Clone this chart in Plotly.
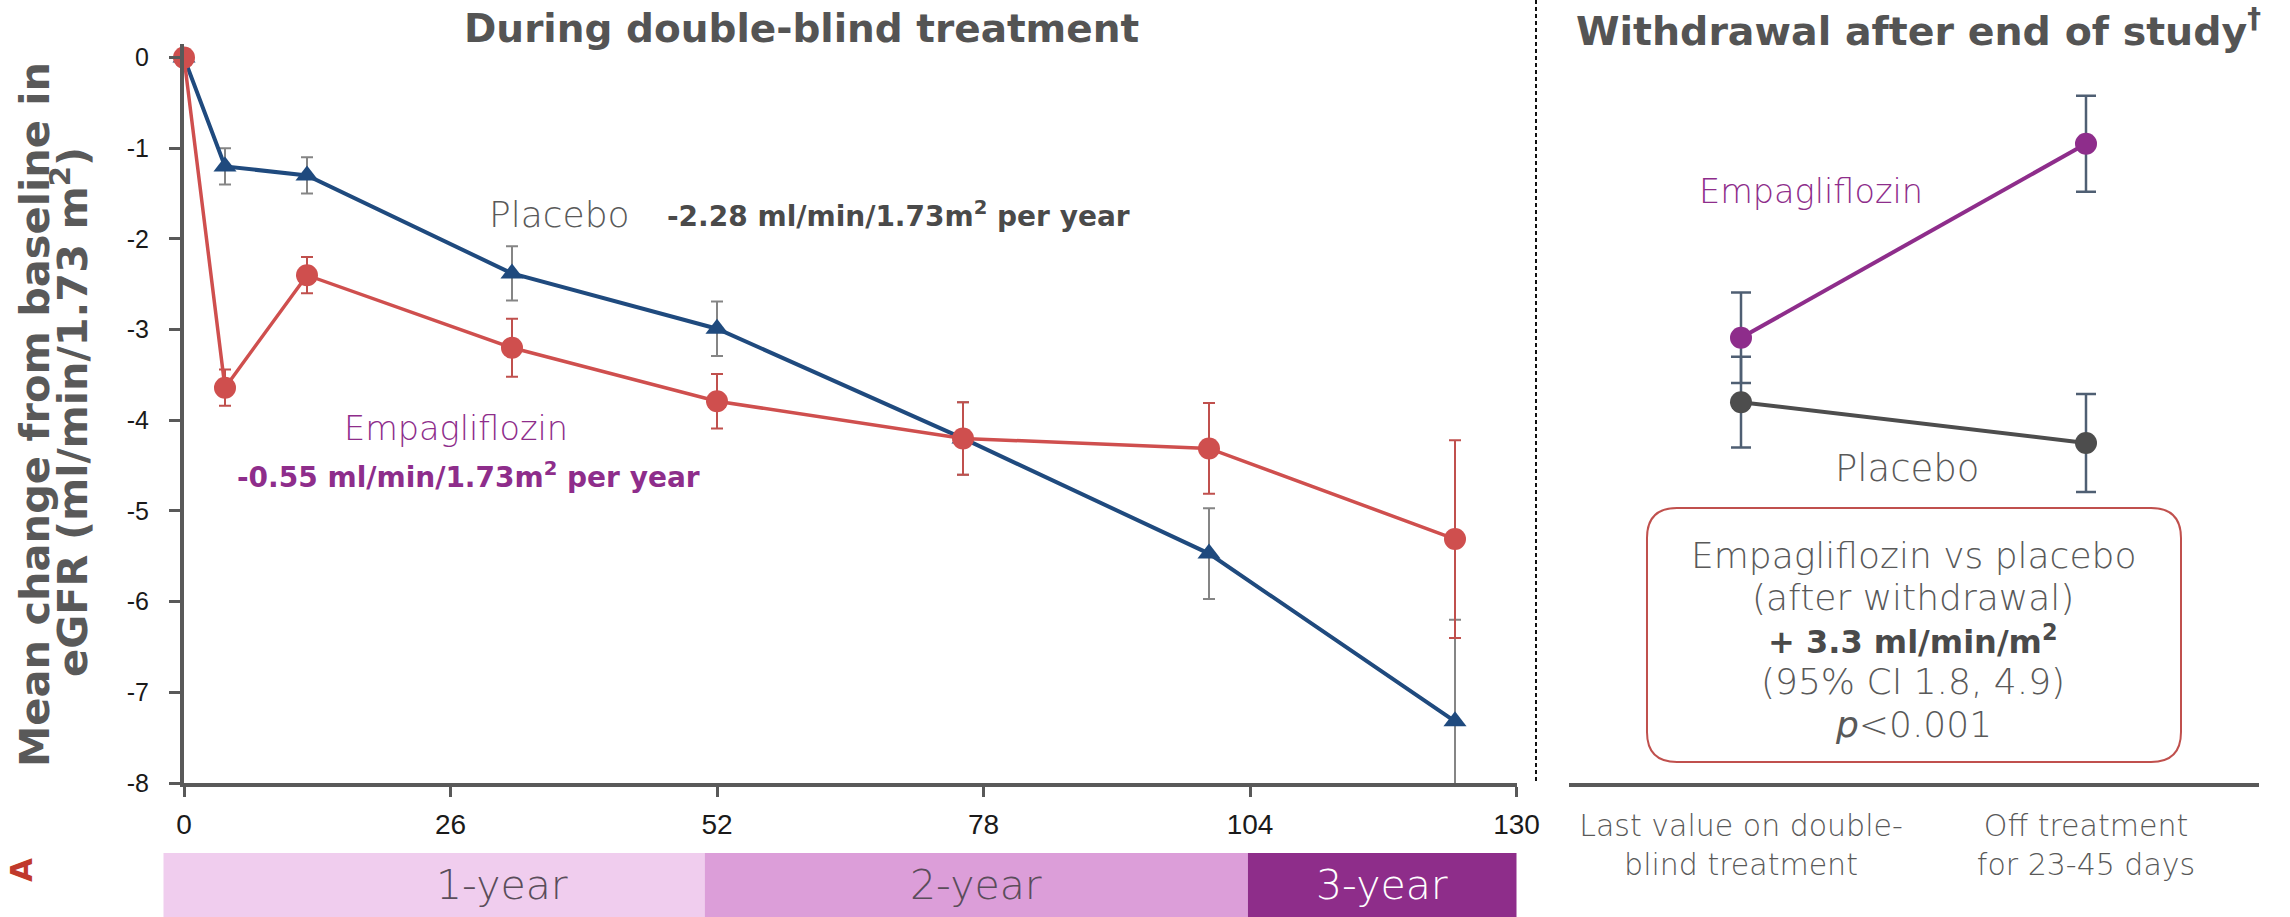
import plotly.graph_objects as go

# ---- data -------------------------------------------------------------
weeks = [0, 4, 12, 32, 52, 76, 100, 124]
placebo_mean = [0, -1.20, -1.30, -2.38, -2.99, -4.20, -5.47, -7.32]
placebo_se = [0, 0.20, 0.20, 0.30, 0.30, 0.40, 0.50, 1.12]
empa_mean = [0, -3.64, -2.40, -3.20, -3.79, -4.20, -4.31, -5.31]
empa_se = [0, 0.20, 0.20, 0.32, 0.30, 0.40, 0.50, 1.09]

x_ticks = [0, 26, 52, 78, 104, 130]
y_ticks = [0, -1, -2, -3, -4, -5, -6, -7, -8]
y_ticktext = ["0", "-1", "-2", "-3", "-4", "-5", "-6", "-7", "-8"]

phase_pos = [0, 1]
phase_labels = ["Last value on double-<br>blind treatment", "Off treatment<br>for 23-45 days"]
empa_withdrawal = [-3.09, -0.95]
empa_withdrawal_se = [0.50, 0.53]
placebo_withdrawal = [-3.80, -4.25]
placebo_withdrawal_se = [0.50, 0.54]

period_labels = ["1-year", "2-year", "3-year"]
period_edges = [-2, 50.8, 103.8, 130]  # weeks

# ---- styling ----------------------------------------------------------
W, H = 2290, 917

NAVY = "#1f4a7e"
RED = "#cf4f4e"
RED_ERR = "#c0504d"
GREY_ERR = "#858585"
PURPLE = "#8e2d8b"
DARK = "#4d4d4d"
TXT = "#595959"
SLATE = "#4f5f73"
LIGHT = "DejaVu Sans"
BOLD = "DejaVu Sans"
TICKS = "Liberation Sans"


def fx(p):
    """pixel (x) -> paper fraction"""
    return p / W


def fy(p):
    """pixel (y, from top) -> paper fraction"""
    return 1 - p / H


# left panel pixel frame
XL0, XL1 = 184, 1516.5
Y_TOP, Y_BOT = 44.0, 783.0
x_of_week = lambda w: XL0 + (XL1 - XL0) * w / 130

fig = go.Figure()

# error bars (clipped to the plotting area)
for mean, se, col in [(placebo_mean, placebo_se, GREY_ERR), (empa_mean, empa_se, RED_ERR)]:
    fig.add_trace(go.Scatter(
        x=weeks, y=mean, mode="markers",
        marker=dict(size=1, color="rgba(0,0,0,0)"),
        error_y=dict(type="data", array=se, color=col, thickness=2, width=6),
        cliponaxis=True, hoverinfo="skip", showlegend=False,
    ))

fig.add_trace(go.Scatter(
    x=weeks, y=placebo_mean, mode="lines+markers", name="Placebo",
    line=dict(color=NAVY, width=4),
    marker=dict(symbol="triangle-up", size=20, color=NAVY),
    cliponaxis=False, showlegend=False,
))
fig.add_trace(go.Scatter(
    x=weeks, y=empa_mean, mode="lines+markers", name="Empagliflozin",
    line=dict(color=RED, width=3.5),
    marker=dict(symbol="circle", size=22, color=RED),
    cliponaxis=False, showlegend=False,
))

# withdrawal panel
fig.add_trace(go.Scatter(
    x=phase_pos, y=placebo_withdrawal, mode="lines+markers", name="Placebo",
    line=dict(color=DARK, width=4),
    marker=dict(size=22, color=DARK),
    error_y=dict(type="data", array=placebo_withdrawal_se, color=SLATE, thickness=2.5, width=10),
    xaxis="x2", yaxis="y2", showlegend=False,
))
fig.add_trace(go.Scatter(
    x=phase_pos, y=empa_withdrawal, mode="lines+markers", name="Empagliflozin",
    line=dict(color=PURPLE, width=4),
    marker=dict(size=22, color=PURPLE),
    error_y=dict(type="data", array=empa_withdrawal_se, color=SLATE, thickness=2.5, width=10),
    xaxis="x2", yaxis="y2", showlegend=False,
))

axis_line = dict(showline=True, linecolor=TXT, linewidth=4, showgrid=False,
                 zeroline=False, automargin=False)

fig.update_layout(
    width=W, height=H,
    margin=dict(l=0, r=0, t=0, b=0, autoexpand=False),
    paper_bgcolor="white", plot_bgcolor="rgba(0,0,0,0)",
    xaxis=dict(
        domain=[fx(XL0), fx(XL1)], range=[0, 130],
        tickvals=x_ticks, ticktext=[str(v) for v in x_ticks],
        ticks="outside", ticklen=10, tickwidth=3, tickcolor=TXT,
        tickfont=dict(family=TICKS, size=28, color="#1a1a1a"),
        ticklabelstandoff=3, **axis_line,
    ),
    yaxis=dict(
        domain=[fy(Y_BOT), fy(Y_TOP)], range=[-8, 0.15],
        tickvals=y_ticks, ticktext=y_ticktext,
        ticks="outside", ticklen=11, tickwidth=3, tickcolor=TXT,
        tickfont=dict(family=TICKS, size=25, color="#1a1a1a"),
        ticklabelstandoff=15, **axis_line,
    ),
    xaxis2=dict(
        domain=[fx(1568.5), fx(2258.5)], range=[-0.5, 1.5], anchor="y2",
        tickvals=phase_pos, ticktext=phase_labels, ticks="",
        tickfont=dict(family=LIGHT, size=30, color=TXT, weight=200),
        ticklabelstandoff=13, **axis_line,
    ),
    yaxis2=dict(
        domain=[fy(Y_BOT), fy(Y_TOP)], range=[-8, 0.15], anchor="x2",
        visible=False, automargin=False,
    ),
)

shapes = []
annotations = []

# period bands under the time axis
band_colors = ["#f0cdee", "#dc9ed9", "#8e2d8a"]
band_text = ["#5a4d5a", "#5a4d5a", "white"]
for i, lab in enumerate(period_labels):
    x0, x1 = x_of_week(period_edges[i]), x_of_week(period_edges[i + 1])
    shapes.append(dict(type="rect", xref="paper", yref="paper",
                       x0=fx(x0), x1=fx(x1), y0=fy(917), y1=fy(853),
                       fillcolor=band_colors[i], line=dict(width=0), layer="below"))
    annotations.append(dict(xref="paper", yref="paper", x=fx((x0 + x1) / 2), y=fy(885),
                            text=lab, showarrow=False, yanchor="middle",
                            font=dict(family=LIGHT, size=41, color=band_text[i], weight=200)))

# dashed separator between panels
shapes.append(dict(type="line", xref="paper", yref="paper",
                   x0=fx(1536), x1=fx(1536), y0=fy(0), y1=fy(783),
                   line=dict(color="#111111", width=2, dash="4px,3px")))

# rounded result box
bx0, bx1, by0, by1, r = 1647, 2181, 508, 762, 30
pts = [
    ("M", bx0 + r, by0), ("L", bx1 - r, by0), ("Q", bx1, by0, bx1, by0 + r),
    ("L", bx1, by1 - r), ("Q", bx1, by1, bx1 - r, by1), ("L", bx0 + r, by1),
    ("Q", bx0, by1, bx0, by1 - r), ("L", bx0, by0 + r), ("Q", bx0, by0, bx0 + r, by0),
]
path = ""
for p in pts:
    cmd, coords = p[0], p[1:]
    xy = [f"{fx(coords[k]):.5f},{fy(coords[k + 1]):.5f}" for k in range(0, len(coords), 2)]
    path += cmd + " ".join(xy) + " "
path += "Z"
shapes.append(dict(type="path", xref="paper", yref="paper", path=path,
                   line=dict(color=RED_ERR, width=2), fillcolor="white"))


def note(x, y, text, size, color, family=LIGHT, weight=None, angle=0, xanchor="center"):
    f = dict(family=family, size=size, color=color)
    if weight is not None:
        f["weight"] = weight
    annotations.append(dict(xref="paper", yref="paper", x=fx(x), y=fy(y), text=text,
                            showarrow=False, textangle=angle, xanchor=xanchor,
                            yanchor="middle", font=f))


# panel titles
note(801, 28, "During double-blind treatment", 39, "#545454", family=BOLD, weight=700)
note(1918, 28, "Withdrawal after end of study<sup>†</sup>", 39.5, "#545454", family=BOLD, weight=700)

# y-axis title (two lines)
note(35, 415, "Mean change from baseline in", 41.5, TXT, family=BOLD, weight=700, angle=-90)
note(70, 412, "eGFR (ml/min/1.73 m<sup>2</sup>)", 41.5, TXT, family=BOLD, weight=700, angle=-90)

# series labels, treatment period
note(559, 215, "Placebo", 36, TXT, weight=200)
note(665, 215, "-2.28 ml/min/1.73m<sup>2</sup> per year", 28, "#4a4a4a",
     family=BOLD, weight=700, xanchor="left")
note(456, 428, "Empagliflozin", 33.5, PURPLE, weight=200)
note(468, 475, "-0.55 ml/min/1.73m<sup>2</sup> per year", 28, PURPLE, family=BOLD, weight=700)

# series labels, withdrawal
note(1811, 192, "Empagliflozin", 33.5, PURPLE, weight=200)
note(1907, 468, "Placebo", 37, TXT, weight=200)

# result box text
box_lines = [
    ("Empagliflozin vs placebo", False),
    ("(after withdrawal)", False),
    ("<b>+ 3.3 ml/min/m<sup>2</sup></b>", True),
    ("(95% CI 1.8, 4.9)", False),
    ("<i>p</i><0.001", False),
]
for k, (t, strong) in enumerate(box_lines):
    if strong:
        note(1913, 555 + 42.3 * k, t, 32, "#4a4a4a", family=BOLD, weight=700)
    else:
        note(1913, 555 + 42.3 * k, t, 36, TXT, weight=200)

# panel letter
note(21, 870, "A", 31, "#c0392b", family=BOLD, weight=700, angle=-90)

fig.update_layout(shapes=shapes, annotations=annotations)

fig.write_html("out.html")
